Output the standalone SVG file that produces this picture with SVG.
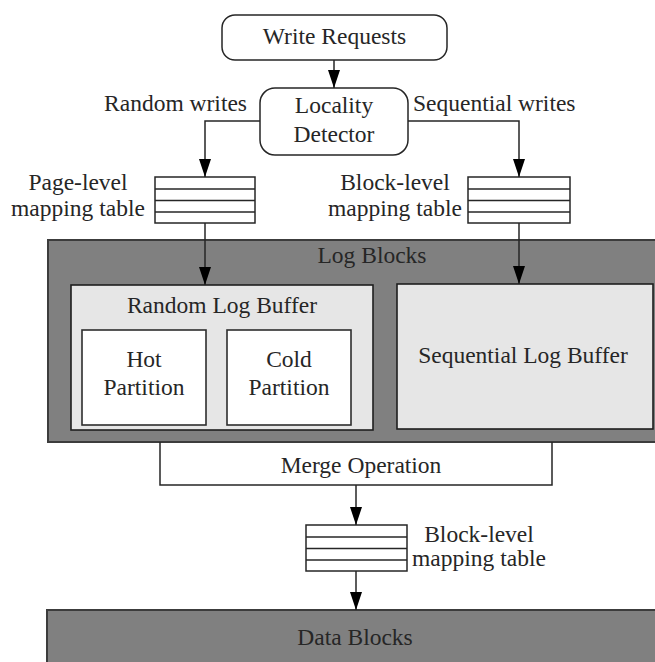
<svg xmlns="http://www.w3.org/2000/svg" width="655" height="662" viewBox="0 0 655 662">
  <style>
    text { font-family: "Liberation Serif", "Times New Roman", serif; font-size: 23.5px; fill: #262626; text-anchor: middle; }
    .end { text-anchor: end; }
    .start { text-anchor: start; }
    .round { fill: #ffffff; stroke: #262626; stroke-width: 1.5; }
    .dark { fill: #808080; stroke: #3c3c3c; stroke-width: 2; }
    .light { fill: #e6e6e6; stroke: #1e1e1e; stroke-width: 1.6; }
    .part { fill: #ffffff; stroke: #2e2e2e; stroke-width: 1.6; }
    .tbl rect { fill: #ffffff; stroke: #262626; stroke-width: 1.5; }
    .tbl line { stroke: #262626; stroke-width: 1.5; }
    .wire { fill: none; stroke: #262626; stroke-width: 1.5; }
  </style>
  <defs>
    <marker id="arrow" markerUnits="userSpaceOnUse" markerWidth="18" markerHeight="12" viewBox="0 0 18 12" refX="18" refY="6" orient="auto">
      <path d="M0,0 L18,6 L0,12 z" fill="#000000"/>
    </marker>
  </defs>

  <!-- log block area -->
  <g id="log-blocks">
    <rect class="dark" x="48" y="240" width="615" height="202"/>
    <text x="372" y="263">Log Blocks</text>
  </g>
  <g id="random-log-buffer">
    <rect class="light" x="71" y="285" width="302" height="145"/>
    <text x="222" y="313">Random Log Buffer</text>
  </g>
  <g id="hot-partition">
    <rect class="part" x="82" y="330" width="124" height="95"/>
    <text x="144" y="367">Hot</text>
    <text x="144" y="395">Partition</text>
  </g>
  <g id="cold-partition">
    <rect class="part" x="227" y="330" width="124" height="95"/>
    <text x="289" y="367">Cold</text>
    <text x="289" y="395">Partition</text>
  </g>
  <g id="sequential-log-buffer">
    <rect class="light" x="397" y="284" width="256" height="145"/>
    <text x="523" y="363">Sequential Log Buffer</text>
  </g>

  <!-- data block area -->
  <g id="data-blocks">
    <rect class="dark" x="47" y="610" width="620" height="70"/>
    <text x="355" y="645">Data Blocks</text>
  </g>

  <!-- request flow -->
  <g id="write-requests">
    <rect class="round" x="222" y="15" width="225" height="45" rx="13"/>
    <text x="334.5" y="44">Write Requests</text>
  </g>
  <g id="locality-detector">
    <rect class="round" x="260" y="88" width="148" height="67" rx="15"/>
    <text x="334" y="113">Locality</text>
    <text x="334" y="142">Detector</text>
  </g>

  <!-- mapping tables -->
  <g id="page-table" class="tbl">
    <rect x="155" y="177" width="100" height="46"/>
    <line x1="155" y1="189" x2="255" y2="189"/>
    <line x1="155" y1="200.5" x2="255" y2="200.5"/>
    <line x1="155" y1="212" x2="255" y2="212"/>
    <text x="78" y="190">Page-level</text>
    <text x="78" y="216">mapping table</text>
  </g>
  <g id="block-table-top" class="tbl">
    <rect x="468" y="177" width="102" height="46"/>
    <line x1="468" y1="189" x2="570" y2="189"/>
    <line x1="468" y1="200.5" x2="570" y2="200.5"/>
    <line x1="468" y1="212" x2="570" y2="212"/>
    <text x="395" y="190">Block-level</text>
    <text x="395" y="216">mapping table</text>
  </g>
  <g id="block-table-bottom" class="tbl">
    <rect x="306" y="525" width="101" height="46"/>
    <line x1="306" y1="537" x2="407" y2="537"/>
    <line x1="306" y1="548.5" x2="407" y2="548.5"/>
    <line x1="306" y1="560" x2="407" y2="560"/>
    <text x="479" y="542">Block-level</text>
    <text x="479" y="566">mapping table</text>
  </g>

  <!-- connectors -->
  <g id="connectors">
    <path class="wire" d="M334,60 V88" marker-end="url(#arrow)"/>
    <path class="wire" d="M260,121 H205 V177" marker-end="url(#arrow)"/>
    <path class="wire" d="M408,121 H519 V177" marker-end="url(#arrow)"/>
    <path class="wire" d="M205,223 V285" marker-end="url(#arrow)"/>
    <path class="wire" d="M519,223 V284" marker-end="url(#arrow)"/>
    <path class="wire" d="M160,442 V485 H552 V442"/>
    <path class="wire" d="M356,485 V525" marker-end="url(#arrow)"/>
    <path class="wire" d="M356,571 V610" marker-end="url(#arrow)"/>
  </g>
  <g id="labels">
    <text class="end" x="247" y="111">Random writes</text>
    <text class="start" x="413" y="111">Sequential writes</text>
    <text x="361" y="473">Merge Operation</text>
  </g>
</svg>
